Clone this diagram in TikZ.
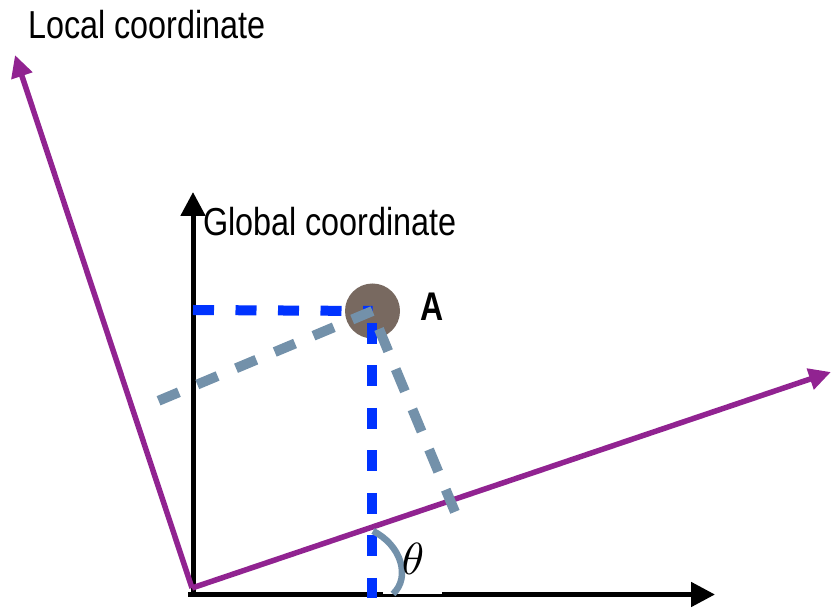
\documentclass[tikz,border=0pt]{standalone}
\usepackage{fontspec}
\setmainfont{Liberation Sans}
\usetikzlibrary{arrows.meta}
\definecolor{localpurple}{HTML}{912391}
\definecolor{pointbrown}{HTML}{786960}
\definecolor{projblue}{HTML}{0033FF}
\definecolor{projgray}{HTML}{7391AA}
\begin{document}
\begin{tikzpicture}[x=1pt,y=-1pt,
  globalaxis/.style={line width=5pt,black,-{Triangle[length=24pt,width=24pt]}},
  localaxis/.style={line width=5.5pt,localpurple,-{Triangle[length=22pt,width=21pt]}},
  bluedash/.style={line width=10pt,projblue,dash pattern=on 21pt off 21.5pt},
  graydash/.style={line width=10pt,projgray,dash pattern=on 22pt off 20pt},
  lbl/.style={inner sep=0pt,anchor=base west}]
\useasboundingbox (0,0) rectangle (831,609);
% named points
\coordinate (O) at (192,588);
\coordinate (gyb) at (193,596);
\coordinate (gyt) at (193,192);
\coordinate (gxl) at (188,594.5);
\coordinate (gxr) at (715,594.5);
\coordinate (lxt) at (831,372);
\coordinate (lyt) at (15,55);
\coordinate (hy) at (193,310);
\coordinate (vs) at (372,323);
\coordinate (vx) at (372,598);
\coordinate (py) at (158,401);
\coordinate (pxs) at (379,329);
\coordinate (px) at (455,512);
\coordinate (arcA) at (373,531);
\coordinate (arcB) at (393,594);
% global axes
\draw[globalaxis] (gyb) -- (gyt);
\draw[globalaxis] (gxl) -- (gxr);
% local axes
\draw[localaxis] (O) -- (lxt);
\draw[localaxis] (O) -- (lyt);
% point A
\node[circle,fill=pointbrown,minimum size=55pt,inner sep=0pt] (A) at (372.5,311) {};
% blue projections (global)
\draw[bluedash] (hy) -- (A.center);
\draw[bluedash] (vs) -- (vx);
% gray projections (local)
\draw[graydash] (A.center) -- (py);
\draw[graydash,dash pattern=on 24pt off 19.5pt] (pxs) -- (px);
% white patch under theta
\fill[white] (383,533) rectangle (442,594.5);
% theta arc
\draw[line width=6.5pt,projgray] (arcA) .. controls (401,545) and (411,577) .. (arcB);
% labels
\node[lbl] (loclbl) at (28,39) {\fontsize{39}{39}\selectfont\scalebox{0.83}[1]{Local coordinate}};
\node[lbl] (globlbl) at (203,236) {\fontsize{39}{39}\selectfont\scalebox{0.83}[1]{Global coordinate}};
\node[lbl] (Albl) at (420,321) {\bfseries\fontsize{40}{40}\selectfont\scalebox{0.8}[1]{A}};
\node[inner sep=0pt] (theta) at (413,559) {\scalebox{4.5}{$\theta$}};
\end{tikzpicture}
\end{document}
